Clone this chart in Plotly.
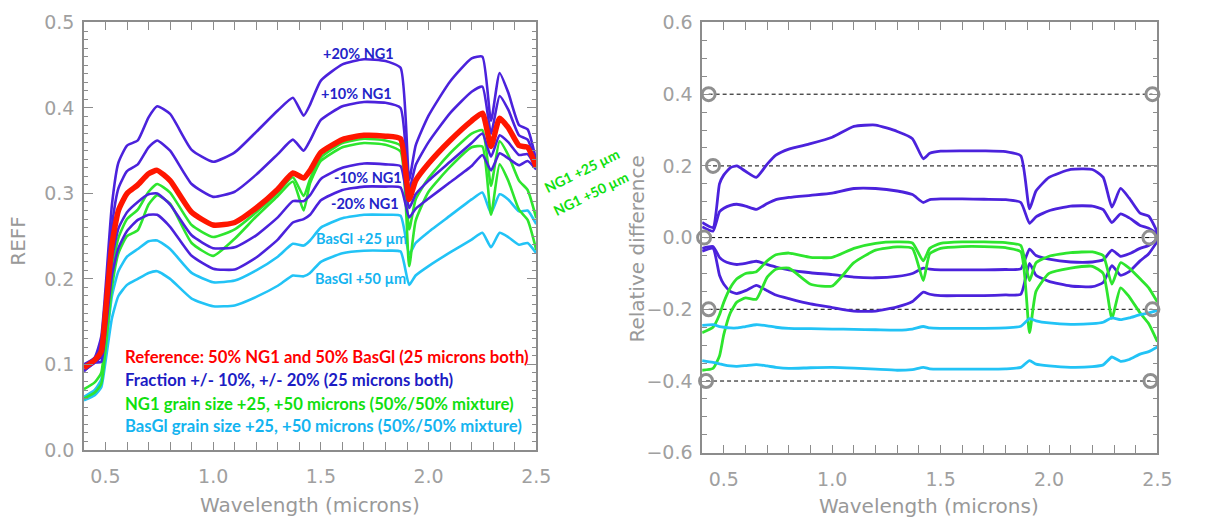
import plotly.graph_objects as go

# ---------------- data ----------------
WL = [0.40, 0.45, 0.48, 0.50, 0.53, 0.56, 0.60, 0.65, 0.70, 0.74, 0.80, 0.90, 1.00, 1.10,
      1.20, 1.30, 1.37, 1.42, 1.45, 1.50, 1.60, 1.70, 1.80, 1.87, 1.91, 1.94, 2.00, 2.10,
      2.20, 2.25, 2.29, 2.33, 2.37, 2.42, 2.46, 2.50]

# Left panel: REFF
REF = [0.096, 0.105, 0.115, 0.160, 0.240, 0.280, 0.300, 0.310, 0.323, 0.327, 0.315, 0.278, 0.263, 0.266,
       0.283, 0.305, 0.324, 0.318, 0.327, 0.348, 0.363, 0.368, 0.367, 0.364, 0.293, 0.315, 0.335, 0.362,
       0.385, 0.394, 0.355, 0.388, 0.377, 0.356, 0.354, 0.331]
FRAC_P20 = [0.100, 0.108, 0.132, 0.188, 0.287, 0.336, 0.356, 0.362, 0.389, 0.402, 0.393, 0.351, 0.337, 0.348,
            0.372, 0.397, 0.412, 0.391, 0.404, 0.432, 0.451, 0.457, 0.455, 0.447, 0.316, 0.356, 0.391, 0.431,
            0.458, 0.460, 0.385, 0.441, 0.418, 0.380, 0.375, 0.338]
FRAC_P10 = [0.099, 0.107, 0.123, 0.173, 0.262, 0.306, 0.326, 0.334, 0.354, 0.362, 0.350, 0.311, 0.296, 0.302,
            0.322, 0.346, 0.363, 0.350, 0.362, 0.386, 0.402, 0.407, 0.406, 0.400, 0.304, 0.333, 0.360, 0.394,
            0.419, 0.425, 0.370, 0.414, 0.398, 0.368, 0.363, 0.334]
FRAC_M10 = [0.093, 0.102, 0.109, 0.150, 0.223, 0.259, 0.278, 0.290, 0.299, 0.300, 0.287, 0.251, 0.236, 0.237,
            0.251, 0.272, 0.291, 0.291, 0.298, 0.317, 0.330, 0.335, 0.334, 0.332, 0.283, 0.299, 0.315, 0.337,
            0.359, 0.370, 0.343, 0.368, 0.360, 0.345, 0.346, 0.329]
FRAC_M20 = [0.092, 0.102, 0.103, 0.139, 0.204, 0.236, 0.256, 0.269, 0.275, 0.275, 0.261, 0.227, 0.212, 0.211,
            0.225, 0.246, 0.266, 0.270, 0.275, 0.292, 0.304, 0.308, 0.308, 0.307, 0.272, 0.282, 0.294, 0.313,
            0.332, 0.345, 0.327, 0.347, 0.341, 0.333, 0.338, 0.328]
NG1_P25 = [0.071, 0.079, 0.090, 0.131, 0.206, 0.248, 0.270, 0.281, 0.302, 0.311, 0.301, 0.263, 0.249, 0.258,
           0.278, 0.301, 0.319, 0.297, 0.317, 0.342, 0.359, 0.364, 0.362, 0.356, 0.258, 0.293, 0.318, 0.347,
           0.370, 0.374, 0.309, 0.361, 0.345, 0.315, 0.304, 0.271]
NG1_P50 = [0.060, 0.067, 0.077, 0.117, 0.190, 0.230, 0.250, 0.257, 0.287, 0.298, 0.288, 0.242, 0.227, 0.247,
           0.273, 0.297, 0.314, 0.280, 0.312, 0.338, 0.354, 0.359, 0.357, 0.349, 0.215, 0.268, 0.302, 0.331,
           0.354, 0.355, 0.275, 0.334, 0.315, 0.281, 0.269, 0.234]
BAS_P25 = [0.062, 0.070, 0.082, 0.118, 0.180, 0.209, 0.226, 0.235, 0.244, 0.245, 0.235, 0.207, 0.196, 0.198,
           0.210, 0.226, 0.241, 0.239, 0.245, 0.260, 0.271, 0.275, 0.275, 0.274, 0.229, 0.242, 0.255, 0.274,
           0.293, 0.301, 0.277, 0.299, 0.293, 0.279, 0.280, 0.264]
BAS_P50 = [0.058, 0.064, 0.073, 0.103, 0.154, 0.180, 0.193, 0.200, 0.207, 0.209, 0.200, 0.177, 0.168, 0.169,
           0.179, 0.192, 0.204, 0.203, 0.207, 0.220, 0.230, 0.233, 0.233, 0.232, 0.193, 0.204, 0.215, 0.231,
           0.246, 0.254, 0.237, 0.254, 0.249, 0.240, 0.242, 0.230]

# Right panel: relative difference
RD_P20 = [0.042, 0.028, 0.150, 0.175, 0.195, 0.200, 0.185, 0.168, 0.205, 0.230, 0.247, 0.262, 0.280, 0.310,
          0.314, 0.296, 0.276, 0.220, 0.235, 0.241, 0.242, 0.242, 0.240, 0.228, 0.080, 0.130, 0.168, 0.190,
          0.190, 0.168, 0.085, 0.137, 0.110, 0.068, 0.060, 0.015]
RD_P10 = [0.030, 0.018, 0.072, 0.082, 0.090, 0.093, 0.088, 0.079, 0.095, 0.106, 0.112, 0.118, 0.124, 0.137,
          0.137, 0.130, 0.120, 0.098, 0.106, 0.108, 0.108, 0.107, 0.106, 0.098, 0.040, 0.058, 0.075, 0.088,
          0.088, 0.078, 0.042, 0.066, 0.055, 0.034, 0.026, 0.010]
RD_M10 = [-0.030, -0.025, -0.055, -0.065, -0.072, -0.075, -0.072, -0.066, -0.075, -0.082, -0.090, -0.098,
          -0.103, -0.110, -0.112, -0.108, -0.100, -0.085, -0.088, -0.090, -0.090, -0.090, -0.089, -0.087,
          -0.032, -0.050, -0.060, -0.068, -0.068, -0.062, -0.035, -0.052, -0.045, -0.030, -0.022, -0.005]
RD_M20 = [-0.038, -0.030, -0.105, -0.130, -0.150, -0.156, -0.148, -0.133, -0.148, -0.160, -0.170, -0.185,
          -0.195, -0.205, -0.205, -0.193, -0.178, -0.152, -0.158, -0.162, -0.162, -0.162, -0.160, -0.158,
          -0.072, -0.105, -0.122, -0.135, -0.137, -0.125, -0.078, -0.105, -0.095, -0.065, -0.045, -0.010]
RD_NG1_25 = [-0.265, -0.250, -0.215, -0.180, -0.140, -0.115, -0.100, -0.095, -0.065, -0.048, -0.043, -0.055,
             -0.055, -0.030, -0.016, -0.012, -0.015, -0.065, -0.030, -0.016, -0.012, -0.012, -0.014, -0.022,
             -0.120, -0.070, -0.052, -0.042, -0.040, -0.050, -0.130, -0.070, -0.085, -0.115, -0.140, -0.180]
RD_NG1_50 = [-0.370, -0.365, -0.330, -0.270, -0.210, -0.180, -0.168, -0.172, -0.110, -0.088, -0.085, -0.130,
             -0.135, -0.070, -0.035, -0.026, -0.030, -0.120, -0.045, -0.030, -0.025, -0.025, -0.028, -0.040,
             -0.265, -0.150, -0.100, -0.085, -0.080, -0.100, -0.225, -0.140, -0.165, -0.210, -0.240, -0.290]
RD_BAS_25 = [-0.245, -0.243, -0.248, -0.250, -0.252, -0.252, -0.248, -0.243, -0.246, -0.250, -0.253, -0.254,
             -0.255, -0.256, -0.257, -0.258, -0.255, -0.248, -0.252, -0.253, -0.253, -0.253, -0.252, -0.247,
             -0.226, -0.232, -0.238, -0.242, -0.240, -0.236, -0.224, -0.229, -0.224, -0.215, -0.210, -0.203]
RD_BAS_50 = [-0.343, -0.348, -0.352, -0.355, -0.358, -0.359, -0.357, -0.354, -0.358, -0.362, -0.365, -0.363,
             -0.362, -0.364, -0.367, -0.370, -0.368, -0.362, -0.366, -0.367, -0.367, -0.367, -0.366, -0.362,
             -0.343, -0.353, -0.358, -0.362, -0.360, -0.355, -0.333, -0.345, -0.340, -0.325, -0.318, -0.305]

# Reference levels with end circles (right panel)
LEVELS = [0.4, 0.2, 0.0, -0.2, -0.4]
LEVEL_X_LEFT = [0.430, 0.450, 0.409, 0.430, 0.418]
LEVEL_X_RIGHT = [2.477, 2.503, 2.463, 2.477, 2.468]

X_TICKS = [0.5, 1.0, 1.5, 2.0, 2.5]
Y1_TICKS = [0.0, 0.1, 0.2, 0.3, 0.4, 0.5]
Y2_TICKS = [-0.6, -0.4, -0.2, 0.0, 0.2, 0.4, 0.6]

# ---------------- styles ----------------
VIOLET = "#4b22dc"
GREEN = "#2ee52e"
CYAN = "#22c3f6"
RED = "#ff1600"
W, H = 1205, 526

fig = go.Figure()

def add(x, y, color, width, xa, ya):
    fig.add_trace(go.Scatter(x=x, y=y, mode="lines", xaxis=xa, yaxis=ya,
                             line=dict(color=color, width=width, shape="spline", smoothing=0.5),
                             showlegend=False, hoverinfo="skip"))

# left panel
for s in (BAS_P25, BAS_P50):
    add(WL, s, CYAN, 2.6, "x", "y")
for s in (NG1_P25, NG1_P50):
    add(WL, s, GREEN, 2.6, "x", "y")
for s in (FRAC_P20, FRAC_P10, FRAC_M10, FRAC_M20):
    add(WL, s, VIOLET, 2.6, "x", "y")
add(WL, REF, RED, 5.5, "x", "y")

# right panel: dashed reference lines + circles
for lv, xl, xr in zip(LEVELS, LEVEL_X_LEFT, LEVEL_X_RIGHT):
    fig.add_trace(go.Scatter(x=[xl, xr], y=[lv, lv], mode="lines", xaxis="x2", yaxis="y2",
                             line=dict(color="black", width=1, dash="4px,3px"),
                             showlegend=False, hoverinfo="skip"))
for s in (RD_P20, RD_P10, RD_M10, RD_M20):
    add(WL, s, VIOLET, 2.8, "x2", "y2")
for s in (RD_NG1_25, RD_NG1_50):
    add(WL, s, GREEN, 2.8, "x2", "y2")
for s in (RD_BAS_25, RD_BAS_50):
    add(WL, s, CYAN, 2.8, "x2", "y2")
fig.add_trace(go.Scatter(x=LEVEL_X_LEFT + LEVEL_X_RIGHT, y=LEVELS + LEVELS, mode="markers",
                         xaxis="x2", yaxis="y2", cliponaxis=False,
                         marker=dict(symbol="circle-open", size=13, color="#8f8f8f",
                                     line=dict(width=3, color="#8f8f8f")),
                         showlegend=False, hoverinfo="skip"))

AX_COL = "#8c8c8c"
TICK_FONT = dict(family="DejaVu Sans", size=19, color="#a0a0a0")

def xaxis(domain, anchor):
    return dict(domain=domain, anchor=anchor, range=[0.4, 2.5], tickvals=X_TICKS,
                ticktext=[f"{v:.1f}" for v in X_TICKS], ticks="inside", ticklen=8,
                tickcolor=AX_COL, tickwidth=1.2,
                minor=dict(dtick=0.1, tick0=0.4, ticks="inside", ticklen=8, tickcolor=AX_COL, tickwidth=1.2),
                showline=True, linecolor=AX_COL, linewidth=1.5, mirror="ticks",
                showgrid=False, zeroline=False, tickfont=TICK_FONT, ticklabelstandoff=9)

def yaxis(domain, anchor, rng, vals, minor_dt, minor_len):
    return dict(domain=domain, anchor=anchor, range=rng, tickvals=vals,
                ticktext=[(f"{v:.1f}" if v >= 0 else "\u2212" + f"{-v:.1f}") for v in vals],
                ticks="inside", ticklen=9, tickcolor=AX_COL, tickwidth=1.2,
                minor=dict(dtick=minor_dt, tick0=0, ticks="inside", ticklen=minor_len,
                           tickcolor=AX_COL, tickwidth=1.2),
                showline=True, linecolor=AX_COL, linewidth=1.5, mirror="ticks",
                showgrid=False, zeroline=False, tickfont=TICK_FONT, ticklabelstandoff=4)

fig.update_layout(
    width=W, height=H, margin=dict(l=0, r=0, t=0, b=0),
    paper_bgcolor="white", plot_bgcolor="white",
    xaxis=xaxis([85 / W, 543 / W], "y"),
    yaxis=yaxis([68 / H, 514 / H], "x", [0, 0.5], Y1_TICKS, 0.01, 4.5),
    xaxis2=xaxis([711 / W, 1172 / W], "y2"),
    yaxis2=yaxis([65 / H, 514 / H], "x2", [-0.6, 0.6], Y2_TICKS, 0.05, 5),
)

def px_ann(text, x, y, color, size, angle=0, family="Lato", xanchor="center"):
    fig.add_annotation(text=text, x=x / W, y=1 - y / H, xref="paper", yref="paper",
                       showarrow=False, textangle=angle, xanchor=xanchor, yanchor="middle",
                       font=dict(family=family, size=size, color=color))

TITLE_COL = "#999999"
px_ann("Wavelength (microns)", 314, 516, TITLE_COL, 20, family="DejaVu Sans")
px_ann("Wavelength (microns)", 941, 517, TITLE_COL, 20, family="DejaVu Sans")
px_ann("REFF", 18, 240, TITLE_COL, 20, angle=-90, family="DejaVu Sans")
px_ann("Relative difference", 645, 248, TITLE_COL, 20, angle=-90, family="DejaVu Sans")

LBL_BLUE = "#2424c8"
LBL_GREEN = "#10e010"
LBL_CYAN = "#14b4f0"
px_ann("<b>+20% NG1</b>", 363, 44, LBL_BLUE, 14.5)
px_ann("<b>+10% NG1</b>", 361, 86, LBL_BLUE, 14.5)
px_ann("<b>-10% NG1</b>", 373, 174, LBL_BLUE, 14.5)
px_ann("<b>-20% NG1</b>", 370, 201, LBL_BLUE, 14.5)
px_ann("<b>BasGl +25 \u00b5m</b>", 366, 237, LBL_CYAN, 14.5)
px_ann("<b>BasGl +50 \u00b5m</b>", 365, 279, LBL_CYAN, 14.5)
px_ann("<b>NG1 +25 \u00b5m</b>", 589, 166, LBL_GREEN, 14, angle=-26)
px_ann("<b>NG1 +50 \u00b5m</b>", 598, 190, LBL_GREEN, 14, angle=-26)

px_ann("<b>Reference: 50% NG1 and 50% BasGl (25 microns both)</b>", 125, 361, "#ff0000", 16.7, xanchor="left")
px_ann("<b>Fraction +/- 10%, +/- 20% (25 microns both)</b>", 125, 385, "#1c1cc4", 16.7, xanchor="left")
px_ann("<b>NG1 grain size +25, +50 microns (50%/50% mixture)</b>", 125, 410, LBL_GREEN, 16.7, xanchor="left")
px_ann("<b>BasGl grain size +25, +50 microns (50%/50% mixture)</b>", 125, 433, LBL_CYAN, 16.7, xanchor="left")

fig.write_html("out.html")
